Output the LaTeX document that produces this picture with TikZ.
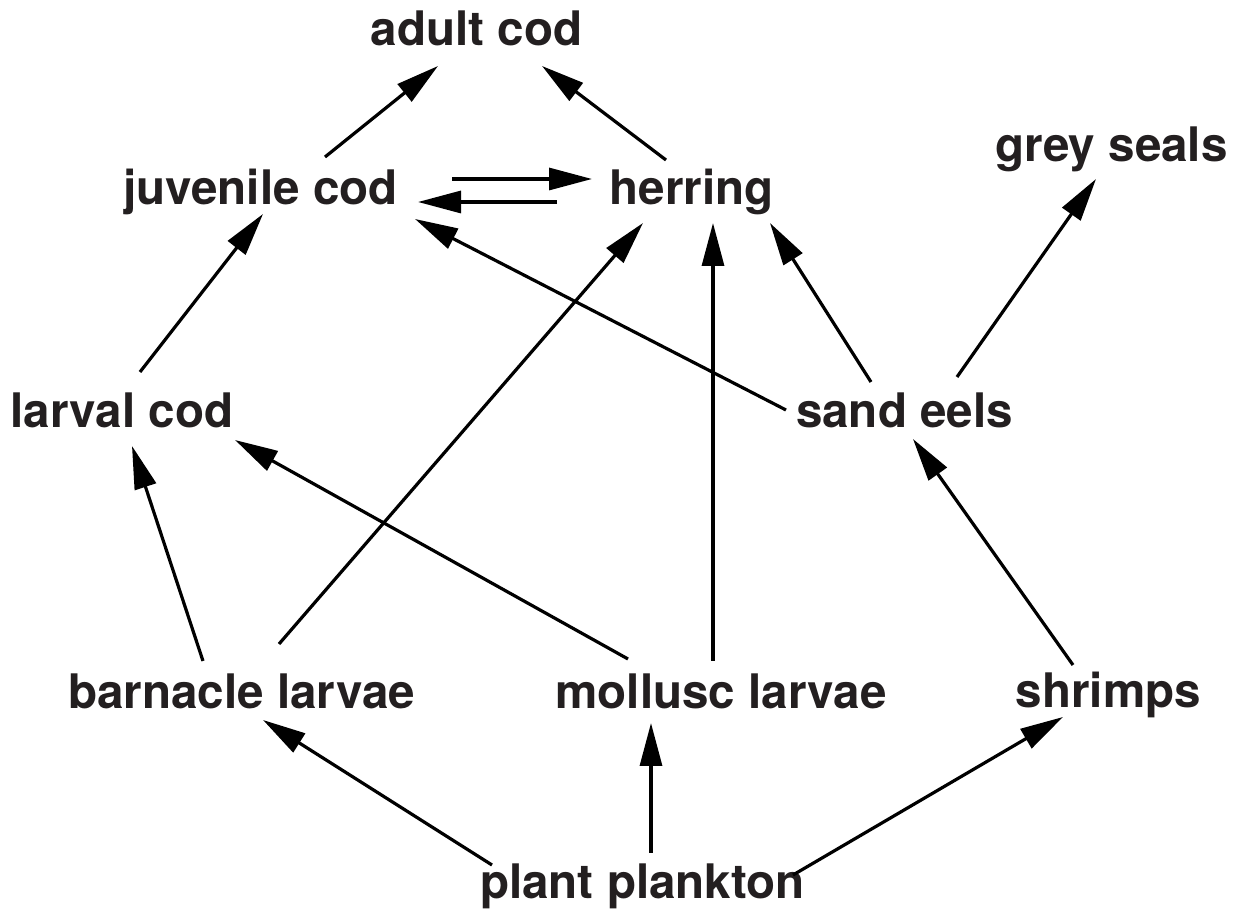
\documentclass[tikz,border=0pt]{standalone}
\usepackage{fontspec}
\setmainfont{TeX Gyre Heros}
\usetikzlibrary{
		arrows.meta,
		calc
	}
\definecolor{inkgrey}{HTML}{231F20}
\tikzset{
		>={Triangle[length=21.5pt,width=11pt]},
		species/.style={anchor=base, inner sep=0pt, text=inkgrey,
			font=\fontsize{23.8}{28}\selectfont\bfseries},
		feeds/.style={->, line width=1.6pt}
	}

\begin{document}
\begin{tikzpicture}[x=0.5pt, y=-0.5pt]
\useasboundingbox (0, 0) rectangle (1239, 913);
\node[species] (adult) at (476.5, 46) {adult cod};
\node[species] (juv) at (260.5, 205) {juvenile cod};
\node[species] (herring) at (691.5, 205) {herring};
\node[species] (seals) at (1111.5, 162) {grey seals};
\node[species] (larval) at (122, 428) {larval cod};
\node[species] (sandeels) at (904.5, 428) {sand eels};
\node[species] (barnacle) at (241.5, 709) {barnacle larvae};
\node[species] (mollusc) at (721, 709) {mollusc larvae};
\node[species] (shrimps) at (1108.5, 708) {shrimps};
\node[species] (plankton) at (642.5, 899) {plant plankton};
\draw[feeds] ($(juv.base)+(64.5,-48)$) -- ($(adult.base)+(-38.5,20)$);
\draw[feeds] ($(herring.base)+(-25.5,-45)$) -- ($(adult.base)+(65.5,20)$);
\draw[feeds] ($(juv.base)+(191.5,-26)$) -- ($(herring.base)+(-99.5,-26)$);
\draw[feeds] ($(herring.base)+(-134.5,-3)$) -- ($(juv.base)+(157.5,-3)$);
\draw[feeds] ($(larval.base)+(18,-56)$) -- ($(juv.base)+(2.5,9)$);
\draw[feeds] ($(sandeels.base)+(-118.5,-18)$) -- ($(juv.base)+(154.5,14)$);
\draw[feeds] ($(sandeels.base)+(-33.5,-46)$) -- ($(herring.base)+(78.5,18)$);
\draw[feeds] ($(sandeels.base)+(52.5,-51)$) -- ($(seals.base)+(-15.5,17)$);
\draw[feeds] ($(mollusc.base)+(-8,-48)$) -- ($(herring.base)+(21.5,18)$);
\draw[feeds] ($(barnacle.base)+(37.5,-65)$) -- ($(herring.base)+(-48.5,18)$);
\draw[feeds] ($(mollusc.base)+(-93,-50)$) -- ($(larval.base)+(113,12)$);
\draw[feeds] ($(barnacle.base)+(-38.5,-48)$) -- ($(larval.base)+(10,18)$);
\draw[feeds] ($(shrimps.base)+(-35.5,-43)$) -- ($(sandeels.base)+(8.5,11)$);
\draw[feeds] ($(plankton.base)+(-150.5,-34)$) -- ($(barnacle.base)+(21.5,11)$);
\draw[feeds] ($(plankton.base)+(8.5,-46)$) -- ($(mollusc.base)+(-70,14)$);
\draw[feeds] ($(plankton.base)+(150.5,-24)$) -- ($(shrimps.base)+(-45.5,9)$);
\end{tikzpicture}
\end{document}
